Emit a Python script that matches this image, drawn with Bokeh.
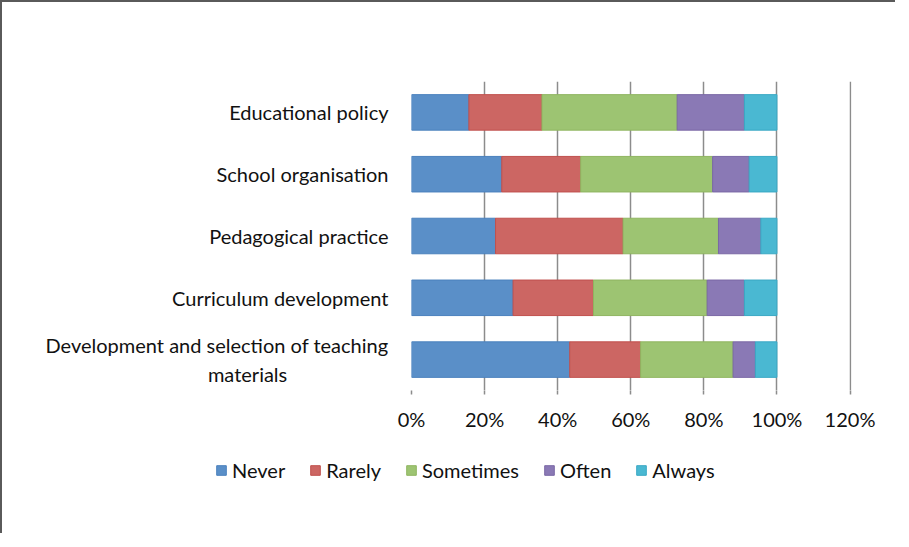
from bokeh.plotting import figure
from bokeh.layouts import column
from bokeh.models import Range1d, NumeralTickFormatter, FixedTicker, Legend, LegendItem
from bokeh.embed import file_html
from bokeh.resources import INLINE

categories = ["Development and selection of teaching\nmaterials\u2003\u2003\u2003\u2003\u2003\u2003\u2002\u200a",
              "Curriculum development",
              "Pedagogical practice",
              "School organisation",
              "Educational policy"]
never = [0.433, 0.278, 0.230, 0.247, 0.157]
rarely = [0.194, 0.220, 0.349, 0.216, 0.200]
sometimes = [0.253, 0.311, 0.261, 0.361, 0.370]
often = [0.061, 0.102, 0.116, 0.100, 0.184]
always = [0.059, 0.089, 0.044, 0.076, 0.089]
series = ["Never", "Rarely", "Sometimes", "Often", "Always"]
colors = ["#5a8fc8", "#cc6663", "#9dc472", "#8a79b5", "#4ab8d2"]
edges = ["#4a80bd", "#c0504d", "#8fb560", "#7a68a5", "#3aa8c4"]
x_ticks = [0, 0.2, 0.4, 0.6, 0.8, 1.0, 1.2]

FONT = "Lato"

p = figure(y_range=categories, x_range=Range1d(0, 1.204), tools="",
           width=893, height=440, frame_width=440, frame_height=309,
           min_border_left=409, min_border_top=79, min_border_right=44, min_border_bottom=52,
           output_backend="svg", toolbar_location=None)

data = dict(cat=categories, Never=never, Rarely=rarely, Sometimes=sometimes, Often=often, Always=always)
p.hbar_stack(series, y="cat", height=0.575, color=colors, line_color=edges,
             line_width=1, source=data)

p.outline_line_color = None
p.ygrid.grid_line_color = None
p.xgrid.grid_line_color = "#8c8c8c"
p.xgrid.grid_line_width = 1.5
p.xgrid.ticker = FixedTicker(ticks=x_ticks)

xa = p.xaxis[0]
xa.ticker = FixedTicker(ticks=x_ticks)
xa.formatter = NumeralTickFormatter(format="0%")
xa.axis_line_color = None
xa.major_tick_line_color = "#8c8c8c"
xa.major_tick_line_width = 1.5
xa.major_tick_in = 0
xa.major_tick_out = 4
xa.minor_tick_line_color = None
xa.major_label_standoff = 12
xa.major_label_text_font = FONT
xa.major_label_text_font_size = "20px"
xa.major_label_text_color = "#111111"

ya = p.yaxis[0]
ya.axis_line_color = None
ya.major_tick_line_color = None
ya.minor_tick_line_color = None
ya.major_label_standoff = 17
ya.major_label_text_font = FONT
ya.major_label_text_font_size = "20px"
ya.major_label_text_color = "#111111"

# legend strip below the chart (its own bars are hidden; only the legend shows)
lg = figure(y_range=categories, x_range=Range1d(2, 3), tools="",
            width=893, height=91, frame_width=893, frame_height=91,
            min_border=0, output_backend="svg", toolbar_location=None)
lg.outline_line_color = None
lg.axis.visible = False
lg.grid.visible = False
swatches = lg.hbar_stack(series, y="cat", height=0.575, color=colors, line_color=edges,
                         line_width=1, source=data)
for r in swatches:
    r.visible = False
items = [LegendItem(label=s, renderers=[r]) for s, r in zip(series, swatches)]
legend = Legend(items=items, orientation="horizontal", location=(213, 51),
                border_line_color=None, background_fill_alpha=0,
                glyph_width=12, glyph_height=12, label_standoff=5, spacing=24,
                padding=0, margin=0, label_text_font=FONT, label_text_font_size="20px",
                label_text_color="#111111", label_height=20)
lg.add_layout(legend, "center")

layout = column(p, lg, spacing=0)
layout.styles = {"border-top": "2px solid #5a5a5a", "border-left": "2px solid #5a5a5a"}

open("out.html", "w").write(file_html(layout, INLINE))
